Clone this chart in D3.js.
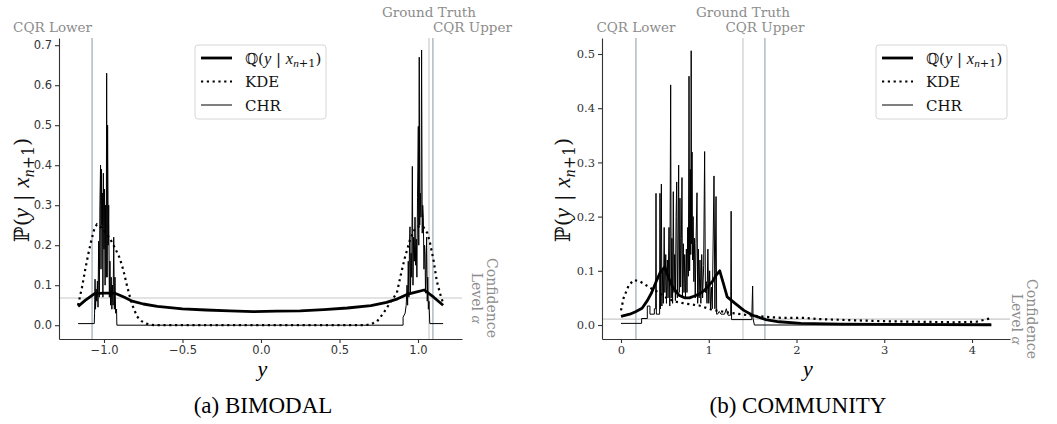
<!DOCTYPE html>
<html>
<head>
<meta charset="utf-8">
<script src="https://cdn.jsdelivr.net/npm/d3@7"></script>
<style>
  body { margin: 0; background: #fff; }
  svg { display: block; }
</style>
</head>
<body>
<svg id="chart" width="1057" height="424"></svg>
<script>
// ---- data ----

// (a) BIMODAL
const bimodalQ = [[-1.165,0.047],[-1.12,0.062],[-1.06,0.079],[-1.0,0.08],[-0.93,0.08],[-0.87,0.07],[-0.82,0.06],
  [-0.75,0.053],[-0.66,0.047],[-0.5,0.041],[-0.35,0.038],[-0.2,0.036],[-0.05,0.034],[0.1,0.035],[0.25,0.036],
  [0.4,0.039],[0.55,0.043],[0.7,0.049],[0.8,0.057],[0.87,0.066],[0.93,0.077],[0.98,0.082],[1.04,0.088],
  [1.1,0.07],[1.16,0.05]];
const bimodalKde = [[-1.165,0.05],[-1.14,0.095],[-1.12,0.138],[-1.10,0.178],[-1.08,0.213],[-1.06,0.243],[-1.045,0.252],
  [-1.02,0.245],[-0.99,0.232],[-0.96,0.215],[-0.93,0.193],[-0.90,0.168],[-0.877,0.138],[-0.85,0.093],[-0.824,0.055],
  [-0.79,0.022],[-0.76,0.01],[-0.73,0.004],[-0.70,0.001],[-0.67,0.0],[0.66,0.0],[0.70,0.002],[0.74,0.01],
  [0.78,0.03],[0.82,0.055],[0.865,0.08],[0.89,0.125],[0.917,0.17],[0.95,0.215],[0.98,0.24],[1.01,0.248],
  [1.035,0.245],[1.06,0.23],[1.077,0.205],[1.10,0.16],[1.12,0.11],[1.14,0.08],[1.16,0.055]];
const bimodalChr = [[-1.165,0.004],[-1.062,0.004],[-1.060,0.03],[-1.057,0.115],[-1.054,0.04],[-1.050,0.09],
  [-1.046,0.06],[-1.042,0.11],[-1.038,0.045],[-1.034,0.21],[-1.030,0.07],[-1.026,0.30],[-1.022,0.40],[-1.019,0.14],
  [-1.016,0.39],[-1.013,0.25],[-1.010,0.33],[-1.007,0.07],[-1.004,0.38],[-1.000,0.19],[-0.997,0.34],[-0.993,0.10],
  [-0.990,0.30],[-0.986,0.12],[-0.983,0.63],[-0.980,0.12],[-0.977,0.50],[-0.973,0.20],[-0.970,0.30],[-0.966,0.07],
  [-0.962,0.16],[-0.958,0.05],[-0.954,0.12],[-0.950,0.04],[-0.946,0.10],[-0.942,0.05],[-0.938,0.22],[-0.934,0.04],
  [-0.930,0.12],[-0.926,0.03],[-0.920,0.04],[-0.918,0.0],[0.905,0.0],[0.905,0.02],[0.918,0.03],[0.925,0.05],
  [0.930,0.10],[0.934,0.05],[0.938,0.16],[0.942,0.07],[0.946,0.20],[0.949,0.246],[0.952,0.08],[0.956,0.18],
  [0.960,0.12],[0.964,0.397],[0.968,0.10],[0.972,0.22],[0.977,0.16],[0.981,0.27],[0.985,0.15],[0.989,0.215],
  [0.993,0.12],[0.997,0.32],[1.002,0.497],[1.005,0.20],[1.008,0.67],[1.011,0.25],[1.015,0.33],[1.019,0.27],
  [1.023,0.688],[1.027,0.23],[1.030,0.30],[1.034,0.27],[1.038,0.14],[1.042,0.20],[1.045,0.18],[1.048,0.08],
  [1.052,0.14],[1.055,0.22],[1.059,0.06],[1.062,0.12],[1.066,0.04],[1.070,0.06],[1.075,0.004],[1.16,0.004]];
const bimodalMarks = [
  { label: "CQR Lower", value: -1.076, kind: "cqr", anchor: "end", row: 1 },
  { label: "Ground Truth", value: 1.07, kind: "truth", anchor: "middle", row: 0 },
  { label: "CQR Upper", value: 1.095, kind: "cqr", anchor: "start", row: 1 }
];
const bimodalAlpha = 0.068;
const bimodalXTicks = [-1, -0.5, 0, 0.5, 1];
const bimodalYTicks = [0, 0.1, 0.2, 0.3, 0.4, 0.5, 0.6, 0.7];

// (b) COMMUNITY
const communityQ = [[0,0.016],[0.1,0.02],[0.16,0.024],[0.24,0.031],[0.30,0.045],[0.35,0.06],[0.40,0.08],
  [0.45,0.098],[0.50,0.107],[0.54,0.088],[0.585,0.071],[0.66,0.055],[0.73,0.05],[0.78,0.05],[0.83,0.053],
  [0.89,0.057],[0.95,0.064],[1.04,0.08],[1.09,0.093],[1.125,0.1],[1.17,0.075],[1.21,0.052],[1.30,0.04],
  [1.40,0.027],[1.50,0.018],[1.65,0.01],[1.80,0.006],[2.05,0.003],[2.5,0.0015],[3.0,0.001],[4.22,0.0005]];
const communityKde = [[0.0,0.027],[0.03,0.05],[0.09,0.074],[0.15,0.083],[0.22,0.08],[0.28,0.074],[0.35,0.067],
  [0.43,0.06],[0.52,0.05],[0.62,0.043],[0.75,0.039],[0.89,0.036],[1.04,0.028],[1.15,0.025],[1.27,0.022],
  [1.45,0.018],[1.65,0.015],[1.85,0.013],[2.1,0.013],[2.25,0.011],[2.6,0.009],[3.0,0.007],[3.4,0.006],
  [3.8,0.005],[4.05,0.006],[4.15,0.01],[4.2,0.012]];
const communityChr = [[0,0.003],[0.235,0.003],[0.235,0.012],[0.30,0.012],[0.30,0.035],[0.33,0.035],[0.33,0.02],
  [0.38,0.02],[0.38,0.03],[0.395,0.03],[0.399,0.243],[0.403,0.02],[0.44,0.02],[0.444,0.243],[0.45,0.03],
  [0.46,0.26],[0.466,0.035],[0.475,0.10],[0.483,0.04],[0.492,0.18],[0.50,0.06],[0.51,0.13],[0.518,0.04],
  [0.528,0.12],[0.536,0.05],[0.547,0.18],[0.556,0.035],[0.566,0.443],[0.572,0.05],[0.58,0.16],[0.588,0.04],
  [0.596,0.246],[0.604,0.06],[0.612,0.13],[0.62,0.045],[0.628,0.2],[0.635,0.264],[0.642,0.05],[0.65,0.14],
  [0.657,0.295],[0.664,0.06],[0.672,0.234],[0.68,0.07],[0.688,0.16],[0.695,0.272],[0.70,0.05],[0.71,0.15],
  [0.718,0.06],[0.726,0.13],[0.735,0.05],[0.745,0.14],[0.752,0.06],[0.76,0.18],[0.768,0.09],[0.775,0.459],
  [0.782,0.10],[0.79,0.287],[0.795,0.13],[0.80,0.506],[0.804,0.15],[0.81,0.319],[0.815,0.12],[0.822,0.2],
  [0.83,0.08],[0.838,0.16],[0.846,0.05],[0.855,0.15],[0.866,0.244],[0.874,0.04],[0.882,0.14],[0.89,0.05],
  [0.90,0.12],[0.91,0.04],[0.92,0.13],[0.93,0.05],[0.942,0.11],[0.953,0.32],[0.962,0.06],[0.972,0.08],
  [0.98,0.04],[0.99,0.14],[1.00,0.04],[1.01,0.10],[1.02,0.03],[1.03,0.07],[1.04,0.03],[1.06,0.275],
  [1.07,0.03],[1.083,0.237],[1.09,0.02],[1.10,0.02],[1.12,0.025],[1.14,0.02],[1.18,0.02],[1.20,0.03],
  [1.22,0.018],[1.25,0.018],[1.255,0.21],[1.26,0.01],[1.49,0.01],[1.50,0.072],[1.505,0.012],[1.52,0.0],[4.22,0.0]];
const communityMarks = [
  { label: "CQR Lower", value: 0.17, kind: "cqr", anchor: "middle", row: 1 },
  { label: "Ground Truth", value: 1.39, kind: "truth", anchor: "middle", row: 0 },
  { label: "CQR Upper", value: 1.64, kind: "cqr", anchor: "middle", row: 1 }
];
const communityAlpha = 0.011;
const communityXTicks = [0, 1, 2, 3, 4];
const communityYTicks = [0, 0.1, 0.2, 0.3, 0.4, 0.5];

// ---- drawing ----
const svg = d3.select("#chart");
const serif = "'DejaVu Serif', serif";
const mathFont = "'Liberation Serif', 'DejaVu Serif', serif";
const grey = "#8c8c8c";

function addMathLabel(sel, letter, size) {
  // ℙ(y | x_{n+1}) style label built from tspans
  sel.append("tspan").attr("font-family", serif).text(letter + "(");
  sel.append("tspan").attr("font-family", mathFont).attr("font-style", "italic").attr("font-size", size * 1.1).text("y");
  sel.append("tspan").attr("font-family", serif).text(" | ");
  sel.append("tspan").attr("font-family", mathFont).attr("font-style", "italic").attr("font-size", size * 1.1).text("x");
  sel.append("tspan").attr("font-family", mathFont).attr("font-style", "italic")
    .attr("font-size", size * 0.75).attr("dy", size * 0.22).text("n");
  sel.append("tspan").attr("font-family", serif).attr("font-size", size * 0.75).text("+1");
  sel.append("tspan").attr("font-family", serif).attr("dy", -size * 0.22).text(")");
}

function drawPanel(cfg) {
  const x = d3.scaleLinear().domain(cfg.xDomain).range([cfg.left, cfg.right]);
  const y = d3.scaleLinear().domain(cfg.yDomain).range([cfg.bottom, cfg.top]);
  const g = svg.append("g");

  // guide lines
  g.append("line")
    .attr("x1", cfg.left).attr("x2", cfg.right)
    .attr("y1", y(cfg.alpha)).attr("y2", y(cfg.alpha))
    .attr("stroke", "#c8c8c8").attr("stroke-width", 1.2);
  cfg.marks.forEach(m => {
    g.append("line")
      .attr("x1", x(m.value)).attr("x2", x(m.value))
      .attr("y1", cfg.top).attr("y2", cfg.bottom)
      .attr("stroke", m.kind === "cqr" ? "#a7afbb" : "#cfcfcf").attr("stroke-width", 1.3);
    g.append("text")
      .attr("x", x(m.value))
      .attr("y", m.row === 0 ? 17 : 32)
      .attr("text-anchor", m.anchor)
      .attr("font-family", serif).attr("font-size", 13.5)
      .attr("fill", grey)
      .text(m.label);
  });

  // curves
  const line = d3.line().x(d => x(d[0])).y(d => y(d[1]));
  g.append("path").datum(cfg.chr).attr("d", line)
    .attr("fill", "none").attr("stroke", "#000").attr("stroke-width", 1).attr("stroke-linejoin", "miter");
  g.append("path").datum(cfg.kde).attr("d", line)
    .attr("fill", "none").attr("stroke", "#000").attr("stroke-width", 2.2)
    .attr("stroke-dasharray", "2.2,3.6");
  g.append("path").datum(cfg.q).attr("d", line)
    .attr("fill", "none").attr("stroke", "#000").attr("stroke-width", 2.8).attr("stroke-linejoin", "round");

  // axes
  const xAxis = d3.axisBottom(x).tickValues(cfg.xTicks).tickSize(4).tickPadding(3).tickSizeOuter(0)
    .tickFormat(cfg.xFormat);
  const yAxis = d3.axisLeft(y).tickValues(cfg.yTicks).tickSize(4).tickPadding(3).tickSizeOuter(0)
    .tickFormat(d3.format(".1f"));
  const gx = g.append("g").attr("transform", `translate(0,${cfg.bottom})`).call(xAxis);
  const gy = g.append("g").attr("transform", `translate(${cfg.left},0)`).call(yAxis);
  [gx, gy].forEach(a => {
    a.selectAll("path, line").attr("stroke", "#333").attr("stroke-width", 1.1);
    a.selectAll("text").attr("font-family", cfg.tickFont).attr("font-size", 11.5).attr("fill", "#333");
  });

  // Confidence level label
  const cl = g.append("g").attr("transform", `translate(${cfg.confX},${y(cfg.alpha)}) rotate(90)`);
  cl.append("text").attr("text-anchor", "middle").attr("y", 0)
    .attr("font-family", serif).attr("font-size", 14).attr("fill", grey).text("Confidence");
  const lv = cl.append("text").attr("text-anchor", "middle").attr("y", 15)
    .attr("font-family", serif).attr("font-size", 14).attr("fill", grey);
  lv.append("tspan").text("Level ");
  lv.append("tspan").attr("font-family", mathFont).attr("font-style", "italic").attr("font-size", 15).text("α");

  // axis labels
  g.append("text").attr("x", (cfg.left + cfg.right) / 2 + 2).attr("y", 376)
    .attr("text-anchor", "middle").attr("font-family", mathFont).attr("font-style", "italic")
    .attr("font-size", 22).text("y");
  const yl = g.append("text")
    .attr("transform", `translate(${cfg.ylabX},190) rotate(-90)`)
    .attr("text-anchor", "middle").attr("font-size", 21).attr("fill", "#111");
  addMathLabel(yl, "ℙ", 21);

  // legend
  const lg = g.append("g").attr("transform", `translate(${cfg.legX},45)`);
  lg.append("rect").attr("width", 131).attr("height", 74).attr("rx", 3)
    .attr("fill", "#fff").attr("fill-opacity", 0.8).attr("stroke", "#d6d6d6");
  const items = [
    { w: 2.8, dash: null, label: "q" },
    { w: 2.2, dash: "2.2,3.6", label: "KDE" },
    { w: 1, dash: null, label: "CHR" }
  ];
  items.forEach((it, i) => {
    const yy = 13 + i * 23.5;
    lg.append("line").attr("x1", 6).attr("x2", 37).attr("y1", yy).attr("y2", yy)
      .attr("stroke", "#000").attr("stroke-width", it.w).attr("stroke-dasharray", it.dash);
    const t = lg.append("text").attr("x", 50).attr("y", yy + 5.5).attr("font-size", 15)
      .attr("font-family", serif).attr("fill", "#111");
    if (it.label === "q") addMathLabel(t.attr("font-size", 15), "ℚ", 15);
    else t.text(it.label);
  });

  // caption
  g.append("text").attr("x", cfg.capX).attr("y", 413).attr("text-anchor", "middle")
    .attr("font-family", "'Liberation Serif', 'Times New Roman', serif").attr("font-size", 23)
    .attr("fill", "#000").text(cfg.caption);
}

drawPanel({
  left: 59, right: 462, top: 38, bottom: 339,
  xDomain: [-1.2866, 1.2803], yDomain: [-0.0345, 0.718],
  q: bimodalQ, kde: bimodalKde, chr: bimodalChr, marks: bimodalMarks, alpha: bimodalAlpha,
  xTicks: bimodalXTicks, yTicks: bimodalYTicks, xFormat: d3.format(".1f"),
  tickFont: "'DejaVu Sans', sans-serif",
  confX: 487, ylabX: 29, legX: 195, capX: 263, caption: "(a) BIMODAL"
});

drawPanel({
  left: 602, right: 1010, top: 38, bottom: 339,
  xDomain: [-0.2165, 4.433], yDomain: [-0.0258, 0.5295],
  q: communityQ, kde: communityKde, chr: communityChr, marks: communityMarks, alpha: communityAlpha,
  xTicks: communityXTicks, yTicks: communityYTicks, xFormat: d3.format("d"),
  tickFont: "'DejaVu Serif', serif",
  confX: 1027, ylabX: 570, legX: 876, capX: 798, caption: "(b) COMMUNITY"
});
</script>
</body>
</html>
